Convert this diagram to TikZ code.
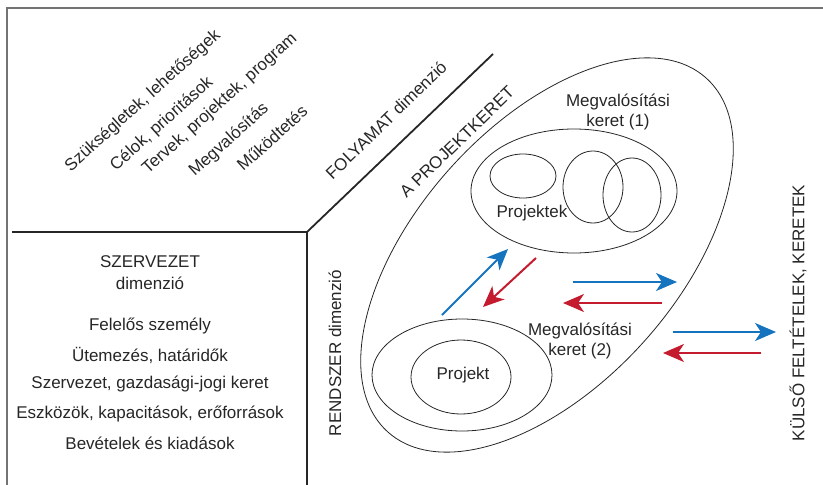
\documentclass[tikz,border=0pt]{standalone}
\usepackage{fontspec}
\setmainfont{Liberation Sans}
\usetikzlibrary{arrows.meta,shapes.geometric}
\definecolor{flowblue}{RGB}{22,115,190}
\definecolor{flowred}{RGB}{196,28,46}
\definecolor{framegray}{RGB}{115,115,115}
\begin{document}
\begin{tikzpicture}[x=1pt,y=-1pt,
  lbl/.style={font=\fontsize{17}{20}\selectfont, inner sep=0pt, text=black!85},
  framestroke/.style={draw=framegray, line width=2pt},
  divider/.style={draw=black!85, line width=1.8pt},
  oval/.style={draw=black!85, ellipse, line width=0.8pt, inner sep=0pt},
  flow/.style={line width=2pt, -{Stealth[length=21pt,width=18pt,inset=6pt]}},
  toright/.style={flow, flowblue},
  toleft/.style={flow, flowred},
]
\useasboundingbox (0,0) rectangle (823,485);

% outer frame
\draw[framestroke] (7,485) -- (7,8) -- (823,8);

% dimension dividers
\coordinate (hub) at (307,232);
\coordinate (westend) at (12,232);
\coordinate (southend) at (307,485);
\coordinate (northend) at (493,54);
\draw[divider] (westend) -- (hub) -- (northend);
\draw[divider] (hub) -- (southend);

% process stages
\node[lbl, rotate=42] (needs) at (143,101) {Szükségletek, lehetőségek};
\node[lbl, rotate=42] (goals) at (162,124) {Célok, prioritások};
\node[lbl, rotate=42] (plans) at (220,104) {Tervek, projektek, program};
\node[lbl, rotate=42] (impl) at (229,140) {Megvalósítás};
\node[lbl, rotate=42] (oper) at (272,138) {Működtetés};

% organisation column
\node[lbl] (org) at (150,262) {SZERVEZET};
\node[lbl] (orgdim) at (150,283) {dimenzió};
\node[lbl] (resp) at (150,326) {Felelős személy};
\node[lbl] (sched) at (150,355) {Ütemezés, határidők};
\node[lbl] (legal) at (150,384) {Szervezet, gazdasági-jogi keret};
\node[lbl] (tools) at (150,414) {Eszközök, kapacitások, erőforrások};
\node[lbl] (money) at (150,443) {Bevételek és kiadások};

% dimension titles
\node[lbl, rotate=44] (procdim) at (386,120) {FOLYAMAT dimenzió};
\node[lbl, rotate=44] (frametitle) at (457,142) {A PROJEKTKERET};
\node[lbl, rotate=90] (sysdim) at (335,353) {RENDSZER dimenzió};
\node[lbl, rotate=90] (ext) at (798,313) {KÜLSŐ FELTÉTELEK, KERETEK};

% project frame
\node[oval, rotate=48, minimum width=476pt, minimum height=260pt] (pframe) at (547,255) {};

% implementation frame (1)
\node[oval, minimum width=206pt, minimum height=124pt] (impl1) at (574,191) {};
\node[oval, minimum width=66pt, minimum height=44pt] (p1) at (523,176) {};
\node[oval, minimum width=60pt, minimum height=72pt] (p2) at (593,187) {};
\node[oval, minimum width=58pt, minimum height=74pt] (p3) at (632,195) {};
\node[lbl] (projs) at (532,213) {Projektek};
\node[lbl, align=center] (impl1lbl) at (618,112) {Megvalósítási\\keret (1)};

% implementation frame (2)
\node[oval, minimum width=180pt, minimum height=112pt] (impl2) at (462,375) {};
\node[oval, minimum width=100pt, minimum height=74pt] (proj) at (461,377) {};
\node[lbl] (projlbl) at (463,375) {Projekt};
\node[lbl, align=center] (impl2lbl) at (580,341) {Megvalósítási\\keret (2)};

% exchange arrows
\coordinate (upA) at (442,315);
\coordinate (upB) at (508,249);
\coordinate (dnA) at (536,258);
\coordinate (dnB) at (483,307);
\coordinate (r1A) at (573,282);
\coordinate (r1B) at (677,282);
\coordinate (l1A) at (662,303);
\coordinate (l1B) at (563,303);
\coordinate (r2A) at (673,332);
\coordinate (r2B) at (776,332);
\coordinate (l2A) at (761,353);
\coordinate (l2B) at (663,353);
\draw[toright] (upA) -- (upB);
\draw[toleft] (dnA) -- (dnB);
\draw[toright] (r1A) -- (r1B);
\draw[toleft] (l1A) -- (l1B);
\draw[toright] (r2A) -- (r2B);
\draw[toleft] (l2A) -- (l2B);
\end{tikzpicture}
\end{document}
